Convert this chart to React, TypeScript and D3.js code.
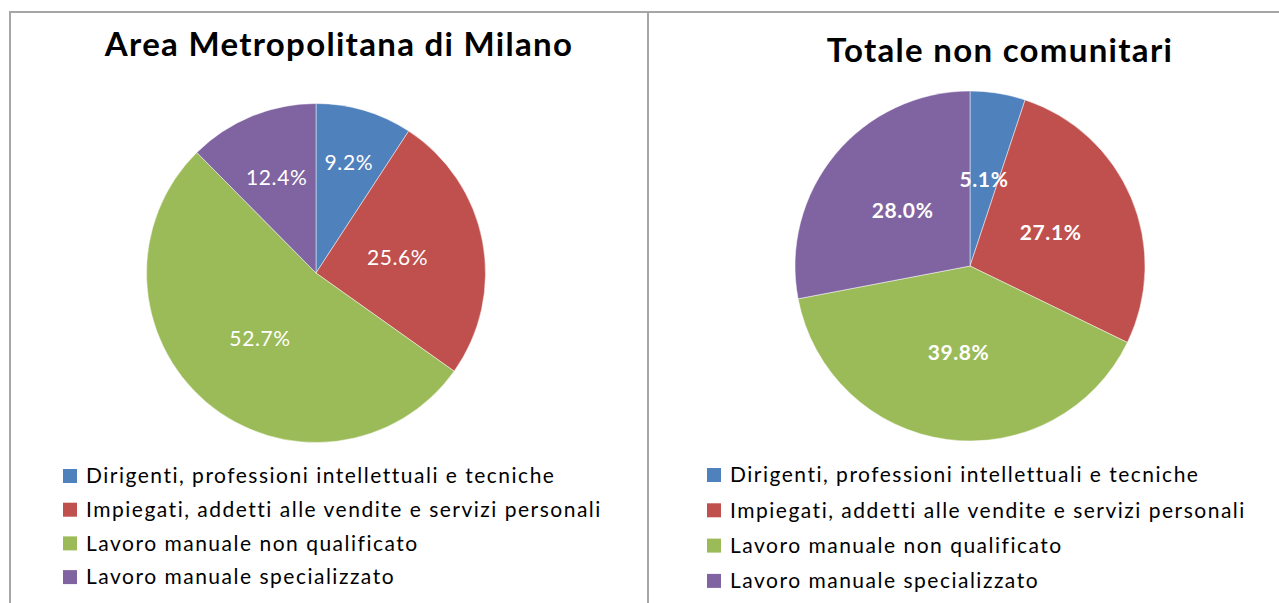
import React from "react";
import * as d3 from "d3";

const categories = [
  "Dirigenti, professioni intellettuali e tecniche",
  "Impiegati, addetti alle vendite e servizi personali",
  "Lavoro manuale non qualificato",
  "Lavoro manuale specializzato",
];
const milanoValues = [9.2, 25.6, 52.7, 12.4];
const nonComunitariValues = [5.1, 27.1, 39.8, 28.0];
const titles = ["Area Metropolitana di Milano", "Totale non comunitari"];
const colors = ["#4F81BD", "#C0504D", "#9BBB59", "#8064A2"];

const W = 1279;
const H = 603;

type PanelCfg = {
  title: string;
  values: number[];
  cx: number;
  cy: number;
  r: number;
  titleX: number;
  titleY: number;
  labelR: number[];
  labelWeight: string;
  legendX: number;
  legendY: number;
  legendStep: number;
};

const panels: PanelCfg[] = [
  {
    title: titles[0],
    values: milanoValues,
    cx: 316,
    cy: 273,
    r: 169.5,
    titleX: 339,
    titleY: 56,
    labelR: [0.68, 0.49, 0.51, 0.61],
    labelWeight: "normal",
    legendX: 63,
    legendY: 476,
    legendStep: 33.7,
  },
  {
    title: titles[1],
    values: nonComunitariValues,
    cx: 970,
    cy: 266,
    r: 175,
    titleX: 1000,
    titleY: 62,
    labelR: [0.5, 0.5, 0.5, 0.5],
    labelWeight: "bold",
    legendX: 707,
    legendY: 475,
    legendStep: 35.3,
  },
];

function Pie({ p }: { p: PanelCfg }) {
  const pie = d3.pie<number>().sort(null).value((d) => d);
  const arcs = pie(p.values);
  const arc = d3.arc<d3.PieArcDatum<number>>().innerRadius(0).outerRadius(p.r);
  const fmt = d3.format(".1f");
  return (
    <g>
      <text
        x={p.titleX}
        y={p.titleY}
        textAnchor="middle"
        fontFamily="Lato, 'Open Sans', sans-serif"
        fontWeight="bold"
        fontSize={33}
        letterSpacing={1.3}
        fill="#000"
      >
        {p.title}
      </text>
      <g transform={`translate(${p.cx},${p.cy})`}>
        {arcs.map((a, i) => (
          <path
            key={i}
            d={arc(a) || ""}
            fill={colors[i]}
            stroke="#ffffff"
            strokeWidth={0.8}
            strokeOpacity={0.6}
          />
        ))}
        {arcs.map((a, i) => {
          const mid = (a.startAngle + a.endAngle) / 2;
          const rr = p.r * p.labelR[i];
          const x = Math.sin(mid) * rr;
          const y = -Math.cos(mid) * rr;
          return (
            <text
              key={"l" + i}
              x={x}
              y={y}
              dy="0.36em"
              textAnchor="middle"
              fontFamily="Lato, 'Open Sans', sans-serif"
              fontSize={21}
              fontWeight={p.labelWeight}
              letterSpacing={0.6}
              fill="#ffffff"
            >
              {fmt(a.data) + "%"}
            </text>
          );
        })}
      </g>
      <g>
        {categories.map((c, i) => (
          <g key={c} transform={`translate(${p.legendX},${p.legendY + i * p.legendStep})`}>
            <rect x={0} y={-7} width={14} height={14} fill={colors[i]} />
            <text
              x={23}
              y={0}
              dy="0.35em"
              fontFamily="Lato, 'Open Sans', sans-serif"
              fontSize={21}
              letterSpacing={1.5}
              fill="#000"
            >
              {c}
            </text>
          </g>
        ))}
      </g>
    </g>
  );
}

export default function App() {
  return (
    <div style={{ position: "fixed", left: 0, top: 0 }}>
      <svg width={W} height={H} style={{ display: "block", background: "#fff" }}>
        <rect x={0} y={0} width={W} height={H} fill="#fff" />
        <line x1={9} y1={12} x2={W} y2={12} stroke="#a6a6a6" strokeWidth={2} />
        <line x1={10} y1={11} x2={10} y2={H} stroke="#a6a6a6" strokeWidth={2} />
        <line x1={648} y1={11} x2={648} y2={H} stroke="#a6a6a6" strokeWidth={2} />
        {panels.map((p) => (
          <Pie key={p.title} p={p} />
        ))}
      </svg>
    </div>
  );
}
